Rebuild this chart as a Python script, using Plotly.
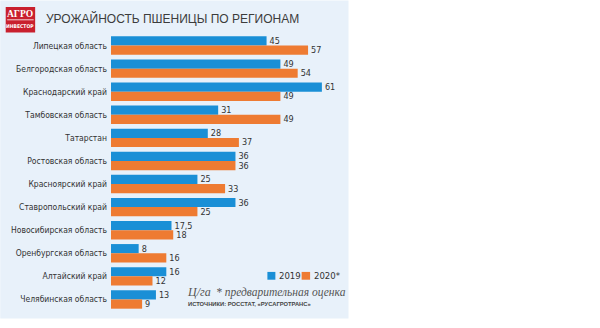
import plotly.graph_objects as go

regions = ["Липецкая область", "Белгородская область", "Краснодарский край",
           "Тамбовская область", "Татарстан", "Ростовская область",
           "Красноярский край", "Ставропольский край", "Новосибирская область",
           "Оренбургская область", "Алтайский край", "Челябинская область"]
y2019 = [45, 49, 61, 31, 28, 36, 25, 36, 17.5, 8, 16, 13]
y2020 = [57, 54, 49, 49, 37, 36, 33, 25, 18, 16, 12, 9]
series_names = ["2019", "2020*"]
title_text = "УРОЖАЙНОСТЬ ПШЕНИЦЫ ПО РЕГИОНАМ"
unit_text = "Ц/га"
note_text = "* предварительная оценка"
source_text = "ИСТОЧНИКИ: РОССТАТ, «РУСАГРОТРАНС»"

BLUE = "#1a8fd6"
ORANGE = "#ee7b32"
PANEL = "#e8f1fa"
TXT = "#333333"
COND = "DejaVu Sans Condensed"

W, H = 600, 328
L, R = 111.0, 600 - 111.0 - 70 * 3.464
T, B = 33.5, 328 - 310.6
PW = W - L - R
PH = H - T - B


def px(x):
    return (x - L) / PW


def py(y):
    return 1 - (y - T) / PH


def fmt(v):
    s = ("%g" % v)
    return s.replace(".", ",")


fig = go.Figure()
for name, vals, col in [(series_names[0], y2019, BLUE), (series_names[1], y2020, ORANGE)]:
    fig.add_trace(go.Bar(
        y=regions, x=vals, orientation="h", name=name,
        marker=dict(color=col, line=dict(width=0)),
        text=[fmt(v) for v in vals], textposition="outside", constraintext="none",
        textfont=dict(family=COND, size=9, color=TXT),
        cliponaxis=False, showlegend=False,
    ))

shapes = [
    dict(type="rect", xref="paper", yref="paper", x0=px(0), x1=px(349), y0=py(0), y1=py(318),
         fillcolor=PANEL, line=dict(width=0), layer="below"),
    dict(type="rect", xref="paper", yref="paper", x0=px(5.5), x1=px(35), y0=py(6.5), y1=py(32),
         fillcolor="#c9202e", line=dict(width=0), layer="above"),
    dict(type="line", xref="paper", yref="paper", x0=px(7), x1=px(33.5), y0=py(19.3), y1=py(19.3),
         line=dict(color="white", width=0.8)),
    dict(type="rect", xref="paper", yref="paper", x0=px(267.7), x1=px(275.7), y0=py(271.5), y1=py(279.3),
         fillcolor=BLUE, line=dict(width=0)),
    dict(type="rect", xref="paper", yref="paper", x0=px(302), x1=px(310.5), y0=py(271.5), y1=py(279.3),
         fillcolor=ORANGE, line=dict(width=0)),
]

annotations = [
    dict(text=title_text, x=px(44), y=py(17.5), xanchor="left", yanchor="middle",
         font=dict(family="Liberation Sans, Arial, sans-serif", size=12, color="#3c3c3c")),
    dict(text="<b>АГРО</b>", x=px(20.3), y=py(13), xanchor="center", yanchor="middle",
         font=dict(family="Liberation Serif, serif", size=9.5, color="white")),
    dict(text="<b>ИНВЕСТОР</b>", x=px(20.3), y=py(25.5), xanchor="center", yanchor="middle",
         font=dict(family=COND, size=5, color="white")),
    dict(text=series_names[0], x=px(277.5), y=py(275.5), xanchor="left", yanchor="middle",
         font=dict(family=COND, size=9.5, color=TXT)),
    dict(text=series_names[1], x=px(312), y=py(275.5), xanchor="left", yanchor="middle",
         font=dict(family=COND, size=9.5, color=TXT)),
    dict(text="<i>" + unit_text + "</i>", x=px(185), y=py(292), xanchor="left", yanchor="middle",
         font=dict(family="Liberation Serif, serif", size=12, color="#555555")),
    dict(text="<i>" + note_text + "</i>", x=px(214), y=py(292), xanchor="left", yanchor="middle",
         font=dict(family="Liberation Serif, serif", size=11.5, color="#555555")),
    dict(text="<b>" + source_text + "</b>", x=px(186), y=py(303.5), xanchor="left", yanchor="middle",
         font=dict(family="Liberation Sans, Arial, sans-serif", size=5.8, color="#444444")),
]
for a in annotations:
    a.update(xref="paper", yref="paper", showarrow=False)

fig.update_layout(
    width=W, height=H,
    margin=dict(l=L, r=R, t=T, b=B, pad=0, autoexpand=False),
    paper_bgcolor="white", plot_bgcolor="rgba(0,0,0,0)",
    barmode="group", bargap=0.2, bargroupgap=0.0,
    shapes=shapes, annotations=annotations,
    xaxis=dict(range=[0, 70], visible=False, fixedrange=True, automargin=False),
    yaxis=dict(autorange="reversed", showgrid=False, zeroline=False, showline=False,
               ticks="", ticklabelstandoff=3, automargin=False,
               tickfont=dict(family=COND, size=8.5, color=TXT), fixedrange=True),
)

fig.write_html("out.html", config={"displayModeBar": False})
